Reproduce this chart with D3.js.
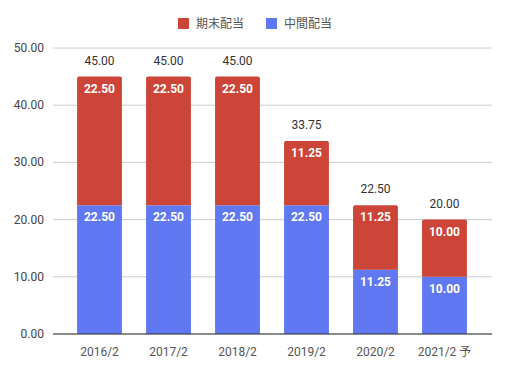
<!DOCTYPE html>
<html>
<head>
<meta charset="utf-8">
<script src="https://cdn.jsdelivr.net/npm/d3@7"></script>
<style>
body { margin: 0; background: #fff; }
text { font-family: Roboto, "Noto Sans CJK JP", sans-serif; }
</style>
</head>
<body>
<svg></svg>
<script>
var years = ["2016/2", "2017/2", "2018/2", "2019/2", "2020/2", "2021/2 予"];
var interim = [22.5, 22.5, 22.5, 22.5, 11.25, 10];
var yearEnd = [22.5, 22.5, 22.5, 11.25, 11.25, 10];
var yTicks = [0, 10, 20, 30, 40, 50];
var seriesNames = ["期末配当", "中間配当"];

var width = 508;
var height = 370;
var red = "#cc4538";
var blue = "#6078f2";

var svg = d3.select("svg")
  .attr("width", width)
  .attr("height", height);

var x = d3.scaleBand()
  .domain(years)
  .range([65, 479])
  .paddingInner(0.35)
  .paddingOuter(0.175);

var y = d3.scaleLinear()
  .domain([0, 50])
  .range([334, 48]);

// grid
svg.selectAll(".grid")
  .data(yTicks)
  .enter()
  .append("line")
  .attr("x1", 53)
  .attr("x2", 492)
  .attr("y1", function(d){ return y(d); })
  .attr("y2", function(d){ return y(d); })
  .attr("stroke", "#cccccc")
  .attr("stroke-width", 1);

svg.selectAll(".ylab")
  .data(yTicks)
  .enter()
  .append("text")
  .text(function(d){ return d.toFixed(2); })
  .attr("x", 44)
  .attr("y", function(d){ return y(d) + 4; })
  .attr("text-anchor", "end")
  .attr("font-size", "12px")
  .attr("fill", "#444");

var data = years.map(function(yr, i){
  return { year: yr, a: interim[i], b: yearEnd[i] };
});

function topRounded(x0, y0, w, h, r) {
  return "M" + x0 + "," + (y0 + h) +
    "V" + (y0 + r) +
    "Q" + x0 + "," + y0 + " " + (x0 + r) + "," + y0 +
    "H" + (x0 + w - r) +
    "Q" + (x0 + w) + "," + y0 + " " + (x0 + w) + "," + (y0 + r) +
    "V" + (y0 + h) + "Z";
}

// interim (bottom)
svg.selectAll(".barA")
  .data(data)
  .enter()
  .append("rect")
  .attr("x", function(d){ return x(d.year); })
  .attr("y", function(d){ return y(d.a); })
  .attr("width", x.bandwidth())
  .attr("height", function(d){ return y(0) - y(d.a); })
  .attr("fill", blue);

// year end (top)
svg.selectAll(".barB")
  .data(data)
  .enter()
  .append("path")
  .attr("d", function(d){
    return topRounded(x(d.year), y(d.a + d.b), x.bandwidth(), y(d.a) - y(d.a + d.b), 2);
  })
  .attr("fill", red);

svg.append("line")
  .attr("x1", 53)
  .attr("x2", 492)
  .attr("y1", y(0))
  .attr("y2", y(0))
  .attr("stroke", "#333")
  .attr("stroke-width", 1);

svg.selectAll(".labA")
  .data(data)
  .enter()
  .append("text")
  .text(function(d){ return d.a.toFixed(2); })
  .attr("x", function(d){ return x(d.year) + x.bandwidth() / 2; })
  .attr("y", function(d){ return y(d.a) + 16; })
  .attr("text-anchor", "middle")
  .attr("font-size", "12px")
  .attr("font-weight", "bold")
  .attr("fill", "#fff");

svg.selectAll(".labB")
  .data(data)
  .enter()
  .append("text")
  .text(function(d){ return d.b.toFixed(2); })
  .attr("x", function(d){ return x(d.year) + x.bandwidth() / 2; })
  .attr("y", function(d){ return y(d.a + d.b) + 16; })
  .attr("text-anchor", "middle")
  .attr("font-size", "12px")
  .attr("font-weight", "bold")
  .attr("fill", "#fff");

svg.selectAll(".total")
  .data(data)
  .enter()
  .append("text")
  .text(function(d){ return (d.a + d.b).toFixed(2); })
  .attr("x", function(d){ return x(d.year) + x.bandwidth() / 2; })
  .attr("y", function(d){ return y(d.a + d.b) - 12; })
  .attr("text-anchor", "middle")
  .attr("font-size", "12px")
  .attr("fill", "#333");

svg.selectAll(".xlab")
  .data(years)
  .enter()
  .append("text")
  .text(function(d){ return d; })
  .attr("x", function(d){ return x(d) + x.bandwidth() / 2; })
  .attr("y", 356)
  .attr("text-anchor", "middle")
  .attr("font-size", "12px")
  .attr("fill", "#555");

// legend
var legend = svg.selectAll(".legend")
  .data(seriesNames)
  .enter()
  .append("g")
  .attr("transform", function(d, i){ return "translate(" + (178 + i * 88) + ",18)"; });

legend.append("rect")
  .attr("width", 11)
  .attr("height", 11)
  .attr("fill", function(d, i){ return i == 0 ? red : blue; });

legend.append("text")
  .text(function(d){ return d; })
  .attr("x", 18)
  .attr("y", 10)
  .attr("font-size", "12px")
  .attr("fill", "#555");
</script>
</body>
</html>
